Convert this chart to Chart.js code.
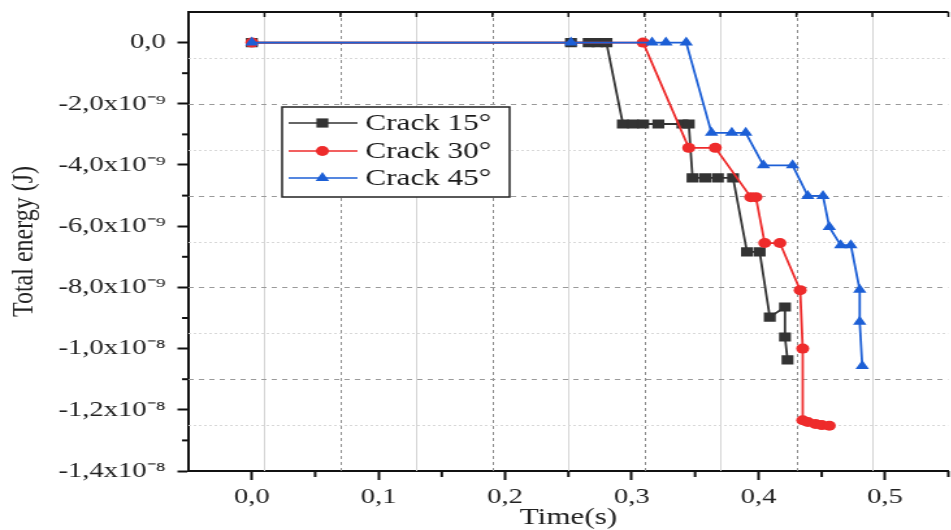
<!DOCTYPE html>
<html>
<head>
<meta charset="utf-8">
<script src="https://cdn.jsdelivr.net/npm/chart.js@4.4.1/dist/chart.umd.min.js"></script>
<style>
  html, body { margin: 0; padding: 0; background: #fff; overflow: hidden; }
  /* the source figure is stretched sideways, so the whole chart is drawn narrow and widened */
  #wrap { width: 736px; height: 530px; transform: scaleX(1.3); transform-origin: 0 0; }
</style>
</head>
<body>
<div id="wrap"><canvas id="energyChart" width="736" height="530"></canvas></div>
<script>
const seriesNames = ['Crack 15°', 'Crack 30°', 'Crack 45°'];

const time15 = [0, 0.252, 0.266, 0.273, 0.280, 0.293, 0.301, 0.309, 0.321, 0.340, 0.345,
                0.348, 0.358, 0.368, 0.380, 0.391, 0.401, 0.409, 0.421, 0.421, 0.423];
const energy15 = [0, 0, 0, 0, 0, -2.66e-9, -2.66e-9, -2.66e-9, -2.66e-9, -2.66e-9, -2.66e-9,
                  -4.42e-9, -4.42e-9, -4.42e-9, -4.42e-9, -6.84e-9, -6.84e-9, -8.97e-9, -8.64e-9, -9.62e-9, -1.037e-8];

const time30 = [0, 0.309, 0.345, 0.366, 0.394, 0.398, 0.405, 0.417, 0.433, 0.435, 0.435,
                0.439, 0.445, 0.450, 0.456];
const energy30 = [0, 0, -3.44e-9, -3.44e-9, -5.05e-9, -5.05e-9, -6.55e-9, -6.55e-9, -8.09e-9, -1.0e-8, -1.234e-8,
                  -1.240e-8, -1.246e-8, -1.250e-8, -1.252e-8];

const time45 = [0, 0.252, 0.316, 0.327, 0.343, 0.363, 0.379, 0.390, 0.404, 0.427, 0.439,
                0.451, 0.456, 0.465, 0.473, 0.480, 0.480, 0.482];
const energy45 = [0, 0, 0, 0, 0, -2.95e-9, -2.95e-9, -2.95e-9, -4.01e-9, -4.01e-9, -5.01e-9,
                  -5.01e-9, -6.03e-9, -6.62e-9, -6.62e-9, -8.08e-9, -9.12e-9, -1.057e-8];

const xTicks = [0, 0.1, 0.2, 0.3, 0.4, 0.5];
const xTickLabels = ['0,0', '0,1', '0,2', '0,3', '0,4', '0,5'];
const yTicks = [0, -2e-9, -4e-9, -6e-9, -8e-9, -1.0e-8, -1.2e-8, -1.4e-8];
const yTickLabels = ['0,0', '-2,0x10⁻⁹', '-4,0x10⁻⁹', '-6,0x10⁻⁹', '-8,0x10⁻⁹',
                     '-1,0x10⁻⁸', '-1,2x10⁻⁸', '-1,4x10⁻⁸'];

const serif = 'Liberation Serif';
const colors = ['#333333', '#ee2b2b', '#1c5fd6'];
const pointStyles = ['rect', 'circle', 'triangle'];

function toPoints(xs, ys) {
    return xs.map((x, i) => ({ x: x, y: ys[i] }));
}

// dotted background grid of the original figure (not tied to the tick values)
const paperGrid = {
    id: 'paperGrid',
    beforeDatasetsDraw(chart) {
        const { ctx, chartArea: a, scales: { x, y } } = chart;
        ctx.save();
        ctx.beginPath();
        ctx.rect(a.left, a.top, a.right - a.left, a.bottom - a.top);
        ctx.clip();
        ctx.lineWidth = 1;
        for (let k = 0; k < 10; k++) {
            const px = Math.round(x.getPixelForValue(0.01 + 0.06 * k)) + 0.5;
            ctx.strokeStyle = k % 2 ? '#8c8c8c' : '#d4d4d4';
            ctx.setLineDash(k % 2 ? [3, 3] : []);
            ctx.beginPath();
            ctx.moveTo(px, a.top);
            ctx.lineTo(px, a.bottom);
            ctx.stroke();
        }
        for (let k = 0; k < 9; k++) {
            const py = Math.round(y.getPixelForValue(-0.5e-9 - 1.5e-9 * k)) + 0.5;
            ctx.strokeStyle = k % 2 ? '#9a9a9a' : '#d8d8d8';
            ctx.setLineDash(k % 2 ? [4, 4] : [2, 2]);
            ctx.beginPath();
            ctx.moveTo(a.left, py);
            ctx.lineTo(a.right, py);
            ctx.stroke();
        }
        ctx.restore();
    },
    afterDraw(chart) {
        const { ctx, chartArea: a, scales: { x, y } } = chart;
        ctx.save();
        ctx.strokeStyle = '#111';
        // top frame line with small inward ticks
        ctx.lineWidth = 2;
        ctx.beginPath();
        ctx.moveTo(a.left, a.top);
        ctx.lineTo(a.right, a.top);
        ctx.stroke();
        ctx.lineWidth = 1.5;
        for (let k = 0; k < 10; k++) {
            const px = x.getPixelForValue(0.01 + 0.06 * k);
            ctx.beginPath();
            ctx.moveTo(px, a.top);
            ctx.lineTo(px, a.top + 5);
            ctx.stroke();
        }
        // minor ticks
        ctx.lineWidth = 2;
        for (let v = 0.05; v < 0.55; v += 0.1) {
            const px = x.getPixelForValue(v);
            ctx.beginPath();
            ctx.moveTo(px, a.bottom);
            ctx.lineTo(px, a.bottom + 6);
            ctx.stroke();
        }
        for (let k = 0; k < 7; k++) {
            const py = y.getPixelForValue(-1e-9 - 2e-9 * k);
            ctx.beginPath();
            ctx.moveTo(a.left, py);
            ctx.lineTo(a.left - 5, py);
            ctx.stroke();
        }
        ctx.restore();
    }
};

function drawMarker(ctx, style, cx, cy, r) {
    ctx.beginPath();
    if (style === 'rect') {
        const s = r * Math.SQRT1_2;
        ctx.rect(cx - s, cy - s, 2 * s, 2 * s);
    } else if (style === 'circle') {
        ctx.arc(cx, cy, r, 0, Math.PI * 2);
    } else {
        ctx.moveTo(cx, cy - r);
        ctx.lineTo(cx + r * 0.87, cy + r * 0.5);
        ctx.lineTo(cx - r * 0.87, cy + r * 0.5);
        ctx.closePath();
    }
    ctx.fill();
}

const boxLegend = {
    id: 'boxLegend',
    afterDraw(chart) {
        const { ctx, chartArea: a } = chart;
        const lx = a.left + 72, ly = 107, w = 175, h = 90;
        ctx.save();
        ctx.fillStyle = '#fff';
        ctx.fillRect(lx, ly, w, h);
        ctx.strokeStyle = '#222';
        ctx.lineWidth = 1.5;
        ctx.strokeRect(lx, ly, w, h);
        const rows = [ly + 16, ly + 44, ly + 71];
        chart.data.datasets.forEach((ds, i) => {
            const ry = rows[i];
            ctx.strokeStyle = ds.borderColor;
            ctx.lineWidth = 1.5;
            ctx.beginPath();
            ctx.moveTo(lx + 5, ry);
            ctx.lineTo(lx + 58, ry);
            ctx.stroke();
            ctx.fillStyle = ds.borderColor;
            drawMarker(ctx, ds.pointStyle, lx + 31, ry, ds.pointRadius);
            ctx.fillStyle = '#1a1a1a';
            ctx.font = '24px "' + serif + '"';
            ctx.textBaseline = 'middle';
            ctx.textAlign = 'left';
            ctx.fillText(ds.label, lx + 64, ry + 1);
        });
        ctx.restore();
    }
};

const allTimes = [time15, time30, time45];
const allEnergies = [energy15, energy30, energy45];
const radii = [6.5, 5, 6];

const ctx = document.getElementById('energyChart').getContext('2d');
const energyChart = new Chart(ctx, {
    type: 'line',
    data: {
        datasets: seriesNames.map((name, i) => ({
            label: name,
            data: toPoints(allTimes[i], allEnergies[i]),
            borderColor: colors[i],
            backgroundColor: colors[i],
            pointBackgroundColor: colors[i],
            pointBorderColor: colors[i],
            pointStyle: pointStyles[i],
            pointRadius: radii[i],
            pointBorderWidth: 0,
            borderWidth: 1.8,
            tension: 0,
            order: 2 - i
        }))
    },
    options: {
        responsive: false,
        animation: false,
        devicePixelRatio: 1,
        layout: { padding: { top: 12, left: 0, right: 0, bottom: 0 } },
        plugins: {
            legend: { display: false },
            tooltip: { enabled: false }
        },
        scales: {
            x: {
                type: 'linear',
                min: -0.05,
                max: 0.55,
                afterBuildTicks: s => { s.ticks = xTicks.map(v => ({ value: v })); },
                afterFit: s => { s.height = 59; s.paddingLeft = 0; s.paddingRight = 0; },
                grid: { drawOnChartArea: false, tickLength: 9, tickWidth: 2, tickColor: '#111' },
                border: { color: '#111', width: 2 },
                ticks: {
                    autoSkip: false, maxRotation: 0, padding: 4, color: '#222',
                    font: { family: serif, size: 22 },
                    callback: (v, i) => xTickLabels[i]
                },
                title: {
                    display: true, text: 'Time(s)', color: '#222',
                    font: { family: serif, size: 24, lineHeight: 1 },
                    padding: { top: 0, bottom: 0 }
                }
            },
            y: {
                min: -1.4e-8,
                max: 1e-9,
                afterBuildTicks: s => { s.ticks = yTicks.map(v => ({ value: v })); },
                afterFit: s => { s.width = 145; s.paddingTop = 0; s.paddingBottom = 0; },
                grid: { drawOnChartArea: false, tickLength: 8.5, tickWidth: 2, tickColor: '#111' },
                border: { color: '#111', width: 2 },
                ticks: {
                    autoSkip: false, padding: 9, color: '#222',
                    font: { family: serif, size: 22 },
                    callback: (v, i) => yTickLabels[i]
                },
                title: {
                    display: true, text: 'Total energy (J)', color: '#222',
                    font: { family: serif, size: 24, lineHeight: 1 },
                    padding: { top: 7, bottom: 0 }
                }
            }
        }
    },
    plugins: [paperGrid, boxLegend]
});
</script>
</body>
</html>
